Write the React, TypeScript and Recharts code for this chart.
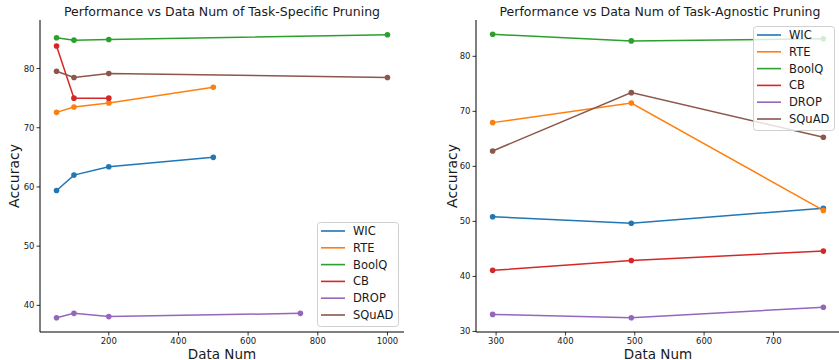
import React from 'react';
import { LineChart, Line, XAxis, YAxis } from 'recharts';

// ---------- data ----------
const seriesNames = ['WIC', 'RTE', 'BoolQ', 'CB', 'DROP', 'SQuAD'];

// Task-specific pruning (left)
const specWicX = [50, 100, 200, 500];
const specWicY = [59.4, 62.0, 63.4, 65.0];
const specRteX = [50, 100, 200, 500];
const specRteY = [72.6, 73.5, 74.2, 76.85];
const specBoolqX = [50, 100, 200, 1000];
const specBoolqY = [85.2, 84.8, 84.9, 85.7];
const specCbX = [50, 100, 200];
const specCbY = [83.8, 75.0, 75.0];
const specDropX = [50, 100, 200, 750];
const specDropY = [37.9, 38.65, 38.1, 38.65];
const specSquadX = [50, 100, 200, 1000];
const specSquadY = [79.55, 78.5, 79.15, 78.5];

const specXTicks = [200, 400, 600, 800, 1000];
const specYTicks = [40, 50, 60, 70, 80];

// Task-agnostic pruning (right)
const agnX = [295, 495, 772];
const agnWicY = [50.85, 49.65, 52.4];
const agnRteY = [67.95, 71.5, 52.0];
const agnBoolqY = [84.0, 82.8, 83.2];
const agnCbY = [41.1, 42.9, 44.6];
const agnDropY = [33.1, 32.5, 34.4];
const agnSquadY = [62.8, 73.4, 65.3];

const agnXTicks = [300, 400, 500, 600, 700];
const agnYTicks = [30, 40, 50, 60, 70, 80];

// ---------- style ----------
const COLORS = ['#1f77b4', '#ff7f0e', '#2ca02c', '#d62728', '#9467bd', '#8c564b'];
const FONT = '"DejaVu Sans", sans-serif';
const TEXT = '#1a1a1a';

const zip = (xs: number[], ys: number[]) => xs.map((x, i) => ({ x, y: ys[i] }));

const specSeries = [
  zip(specWicX, specWicY),
  zip(specRteX, specRteY),
  zip(specBoolqX, specBoolqY),
  zip(specCbX, specCbY),
  zip(specDropX, specDropY),
  zip(specSquadX, specSquadY),
];
const agnSeries = [
  zip(agnX, agnWicY),
  zip(agnX, agnRteY),
  zip(agnX, agnBoolqY),
  zip(agnX, agnCbY),
  zip(agnX, agnDropY),
  zip(agnX, agnSquadY),
];

const tickStyle = { fontSize: 8.5, fill: TEXT, fontFamily: FONT };
const axisLine = { stroke: '#000', strokeWidth: 1 };
const tickLine = { stroke: '#000', strokeWidth: 0.8 };

type PanelProps = {
  left: number;
  width: number;
  yAxisWidth: number;
  series: { x: number; y: number }[][];
  xDomain: [number, number];
  yDomain: [number, number];
  xTicks: number[];
  yTicks: number[];
};

function Panel({ left, width, yAxisWidth, series, xDomain, yDomain, xTicks, yTicks }: PanelProps) {
  return (
    <div style={{ position: 'absolute', left, top: 0 }}>
      <LineChart width={width} height={360} margin={{ top: 20, right: 0, bottom: 0, left: 0 }}>
        <XAxis
          xAxisId="b"
          type="number"
          dataKey="x"
          domain={xDomain}
          ticks={xTicks}
          allowDataOverflow
          height={28}
          tick={tickStyle}
          tickSize={3.5}
          axisLine={axisLine}
          tickLine={tickLine}
          interval={0}
        />
        <XAxis xAxisId="t" orientation="top" type="number" dataKey="x" domain={xDomain} height={0} tick={false} tickLine={false} axisLine={axisLine} />
        <YAxis
          yAxisId="l"
          type="number"
          domain={yDomain}
          ticks={yTicks}
          allowDataOverflow
          width={yAxisWidth}
          tick={tickStyle}
          tickSize={3.5}
          axisLine={axisLine}
          tickLine={tickLine}
          interval={0}
        />
        <YAxis yAxisId="r" orientation="right" type="number" domain={yDomain} width={0} tick={false} tickLine={false} axisLine={axisLine} />
        {series.map((d, i) => (
          <Line
            key={seriesNames[i]}
            xAxisId="b"
            yAxisId="l"
            data={d}
            dataKey="y"
            name={seriesNames[i]}
            stroke={COLORS[i]}
            strokeWidth={1.5}
            dot={{ r: 2.8, fill: COLORS[i], stroke: COLORS[i], strokeWidth: 0 }}
            isAnimationActive={false}
          />
        ))}
      </LineChart>
    </div>
  );
}

function LegendBox({ left, top }: { left: number; top: number }) {
  const W = 81;
  const H = 104;
  return (
    <svg
      width={W + 2}
      height={H + 2}
      style={{ position: 'absolute', left: left - 1, top: top - 1, overflow: 'visible' }}
    >
      <rect x={1.5} y={1.5} width={W} height={H} rx={3} ry={3} fill="rgba(255,255,255,0.8)" stroke="#d0d0d0" strokeWidth={1} />
      {seriesNames.map((n, i) => {
        const cy = 10 + i * 16.8;
        return (
          <g key={n}>
            <line x1={5} x2={29} y1={cy} y2={cy} stroke={COLORS[i]} strokeWidth={1.6} />
            <text x={37} y={cy} dominantBaseline="central" fontSize={11.5} fontFamily={FONT} fill={TEXT}>
              {n}
            </text>
          </g>
        );
      })}
    </svg>
  );
}

export default function App() {
  return (
    <div style={{ position: 'absolute', left: 0, top: 0, width: 839, height: 360, overflow: 'hidden', background: '#fff' }}>
      <Panel
        left={0}
        width={404}
        yAxisWidth={40}
        series={specSeries}
        xDomain={[2.5, 1047.5]}
        yDomain={[35.5, 88.2]}
        xTicks={specXTicks}
        yTicks={specYTicks}
      />
      <Panel
        left={420}
        width={420}
        yAxisWidth={56}
        series={agnSeries}
        xDomain={[271, 796]}
        yDomain={[29.9, 86.6]}
        xTicks={agnXTicks}
        yTicks={agnYTicks}
      />
      <svg width={839} height={360} style={{ position: 'absolute', left: 0, top: 0, pointerEvents: 'none' }}>
        <g fontFamily={FONT} fill={TEXT} textAnchor="middle">
          <text x={222} y={15.5} fontSize={12.5}>Performance vs Data Num of Task-Specific Pruning</text>
          <text x={660} y={15.5} fontSize={12.5}>Performance vs Data Num of Task-Agnostic Pruning</text>
          <text x={222} y={358.5} fontSize={13.5}>Data Num</text>
          <text x={658} y={358.5} fontSize={13.5}>Data Num</text>
          <text x={0} y={0} fontSize={14} transform="translate(18.5 176) rotate(-90)">Accuracy</text>
          <text x={0} y={0} fontSize={14} transform="translate(456.5 176) rotate(-90)">Accuracy</text>
        </g>
      </svg>
      <LegendBox left={317} top={222} />
      <LegendBox left={753} top={26} />
    </div>
  );
}
